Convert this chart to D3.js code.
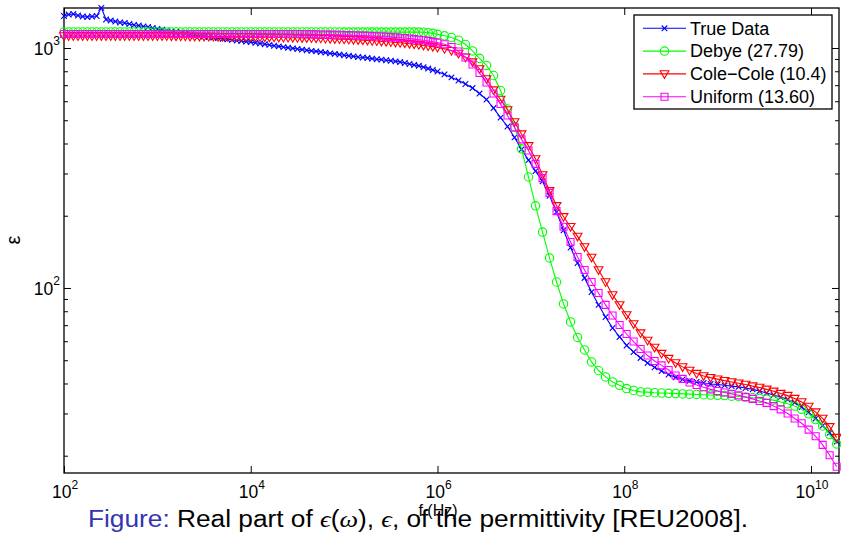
<!DOCTYPE html>
<html>
<head>
<meta charset="utf-8">
<script src="https://cdn.jsdelivr.net/npm/d3@7"></script>
<style>
  body { margin: 0; background: #fff; }
  svg text { font-family: "Liberation Sans", Arial, Helvetica, sans-serif; }
</style>
</head>
<body>
<svg id="chart" width="841" height="534"></svg>
<script>
// Frequency points, as log10(f / Hz)
const logFreq = [
  2,2.05,2.1,2.15,2.2,2.25,2.3,2.35,2.4,2.45,
  2.5,2.55,2.6,2.65,2.7,2.75,2.8,2.85,2.9,2.95,
  3,3.05,3.1,3.15,3.2,3.25,3.3,3.35,3.4,3.45,
  3.5,3.55,3.6,3.65,3.7,3.75,3.8,3.85,3.9,3.95,
  4,4.05,4.1,4.15,4.2,4.25,4.3,4.35,4.4,4.45,
  4.5,4.55,4.6,4.65,4.7,4.75,4.8,4.85,4.9,4.95,
  5,5.05,5.1,5.15,5.2,5.25,5.3,5.35,5.4,5.45,
  5.5,5.55,5.6,5.65,5.7,5.75,5.8,5.85,5.9,5.95,
  6,
  6.075,6.15,6.225,6.3,6.375,6.45,6.525,6.6,6.675,6.75,
  6.825,6.9,6.975,7.05,7.125,7.2,7.275,7.35,7.425,7.5,
  7.575,7.65,7.725,7.8,7.875,7.95,8.025,8.1,8.175,8.25,
  8.325,8.4,8.475,8.55,8.625,8.7,8.775,8.85,8.925,9,
  9.075,9.15,9.225,9.3,9.375,9.45,9.525,9.6,9.675,9.75,
  9.825,9.9,9.975,10.05,10.125,10.2,10.275
];

// Real permittivity: measured
const trueData = [
  1359,1379,1386,1366,1353,1346,1353,1359,1470,1315,
  1302,1290,1277,1271,1259,1247,1241,1229,1223,1212,
  1200,1192,1183,1175,1166,1157,1148,1139,1130,1123,
  1117,1111,1105,1099,1092,1087,1081,1075,1070,1063,
  1058,1051,1044,1037,1030,1022,1016,1009,1003,997,
  990,985,979,973,968,962,957,950,945,939,
  933,928,923,917,913,908,903,898,894,889,
  885,880,874,866,858,850,843,832,821,810,
  798,
  776,754,732,708,681,646,610,562,513,471,
  424,378,341,307,278,242,207,174,147.5,127.1,
  110.1,96.2,85.0,75.7,68.1,62.5,57.6,54.1,51.1,48.7,
  46.7,45.1,43.6,42.4,41.6,41.0,40.6,40.2,39.8,39.6,
  39.3,39.0,38.7,38.3,37.8,37.2,36.5,35.8,35.1,34.3,
  33.3,31.9,30.3,28.6,26.7,24.9,22.9
];

// Debye model fit
const debye = [
  1166,1166,1166,1166,1166,1166,1166,1166,1166,1166,
  1166,1166,1166,1166,1166,1166,1166,1166,1166,1166,
  1166,1166,1166,1166,1166,1166,1166,1166,1166,1166,
  1166,1166,1166,1166,1166,1166,1166,1166,1166,1166,
  1166,1166,1166,1166,1166,1166,1166,1166,1166,1166,
  1166,1166,1166,1166,1166,1166,1166,1166,1166,1166,
  1165,1165,1165,1165,1165,1165,1165,1165,1165,1165,
  1165,1165,1165,1165,1165,1165,1165,1163,1158,1151,
  1140,
  1124,1106,1078,1034,972,906,846,768,665,557,
  471,380,290,220,171,133.4,105.9,85.8,72.2,62.2,
  55.2,49.2,45.3,42.6,40.6,39.3,38.1,37.4,36.9,36.8,
  36.6,36.5,36.4,36.3,36.2,36.1,36.0,35.9,35.8,35.7,
  35.6,35.4,35.3,35.1,34.9,34.7,34.4,34.1,33.5,32.9,
  32.2,31.2,29.9,28.3,26.6,24.5,22.4
];

// Cole-Cole model fit
const coleCole = [
  1122,1122,1122,1122,1122,1122,1122,1122,1122,1122,
  1122,1122,1122,1122,1122,1122,1122,1122,1122,1122,
  1122,1121,1121,1120,1120,1119,1119,1118,1118,1117,
  1117,1116,1116,1115,1115,1115,1114,1114,1114,1114,
  1113,1112,1111,1110,1109,1108,1107,1106,1105,1104,
  1103,1102,1101,1100,1099,1097,1095,1094,1091,1089,
  1087,1085,1083,1081,1078,1075,1072,1069,1065,1062,
  1059,1055,1051,1047,1042,1037,1031,1025,1019,1013,
  1005,
  992,975,949,915,874,818,743,668,610,552,
  492,438,391,345,296,254,220,198,180,164,
  148.2,134.0,118.9,105.9,93.5,85.0,77.2,70.8,64.9,60.4,
  56.5,53.3,50.8,48.7,46.9,45.3,44.0,43.0,42.3,41.7,
  41.1,40.6,40.1,39.6,39.0,38.5,37.8,37.1,36.3,35.6,
  34.6,33.5,32.1,30.4,28.6,26.4,23.8
];

// Uniform-distribution model fit
const uniform = [
  1144,1144,1144,1144,1144,1144,1144,1144,1144,1144,
  1144,1144,1144,1144,1144,1144,1144,1144,1144,1144,
  1144,1144,1144,1144,1144,1144,1144,1144,1144,1144,
  1144,1144,1144,1144,1144,1144,1144,1144,1144,1144,
  1144,1144,1144,1144,1144,1144,1144,1144,1144,1144,
  1144,1143,1142,1142,1140,1139,1138,1137,1136,1135,
  1133,1132,1130,1128,1126,1124,1121,1119,1117,1114,
  1110,1107,1104,1100,1095,1089,1083,1077,1070,1061,
  1053,
  1036,1010,967,913,854,787,718,646,584,523,
  466,416,374,329,287,249,209,180,155.5,134.7,
  118.9,105.9,95.3,85.0,76.8,70.1,64.3,59.8,55.7,52.3,
  49.6,47.6,45.5,43.2,41.8,40.4,39.4,38.6,37.8,37.2,
  36.7,36.2,35.7,35.1,34.5,33.8,33.2,32.2,31.2,30.0,
  28.6,27.3,25.7,24.1,22.2,20.1,18.0
];

const seriesNames  = ["True Data", "Debye (27.79)", "Cole\u2212Cole (10.4)", "Uniform (13.60)"];
const seriesColors = ["#0000ff", "#00ff00", "#ff0000", "#ff00ff"];
const seriesMarkers = ["times", "circle", "triangleDown", "square"];

const xTickExponents = [2, 4, 6, 8, 10];
const yTickExponents = [2, 3];
const yMinorTicks = [20, 30, 40, 50, 60, 70, 80, 90, 200, 300, 400, 500, 600, 700, 800, 900];

// ---- layout ----
const plot = { left: 64, top: 8, right: 839, bottom: 473 };
const svg = d3.select("#chart");

const x = d3.scaleLog().domain([1e2, Math.pow(10, 10.3)]).range([plot.left, plot.right]);
const y = d3.scaleLog().domain([Math.pow(10, 1.229), Math.pow(10, 3.1667)]).range([plot.bottom, plot.top]);

const series = [trueData, debye, coleCole, uniform].map((vals, i) => ({
  name: seriesNames[i],
  color: seriesColors[i],
  marker: seriesMarkers[i],
  points: vals.map((v, j) => ({ f: Math.pow(10, logFreq[j]), v }))
}));

// marker shapes
const markerPath = {
  times: `M-2.8,-2.8L2.8,2.8M-2.8,2.8L2.8,-2.8`,
  circle: `M4.2,0A4.2,4.2 0 1,1 -4.2,0A4.2,4.2 0 1,1 4.2,0Z`,
  triangleDown: `M-4.4,-3.2L4.4,-3.2L0,4.4Z`,
  square: `M-3.5,-3.5L3.5,-3.5L3.5,3.5L-3.5,3.5Z`
};

// ---- axes (ticks point inward on all four sides) ----
const majorX = xTickExponents.map(e => Math.pow(10, e));
const majorY = yTickExponents.map(e => Math.pow(10, e));

function styleAxis(g) {
  g.select(".domain").remove();
  g.selectAll(".tick line").attr("stroke", "#000").attr("stroke-width", 1);
  g.selectAll(".tick text").remove();
}

svg.append("g").attr("transform", `translate(0,${plot.bottom})`)
  .call(d3.axisBottom(x).tickValues(majorX).tickSizeInner(-7).tickSizeOuter(0).tickFormat(""))
  .call(styleAxis);
svg.append("g").attr("transform", `translate(0,${plot.top})`)
  .call(d3.axisTop(x).tickValues(majorX).tickSizeInner(-7).tickSizeOuter(0).tickFormat(""))
  .call(styleAxis);
svg.append("g").attr("transform", `translate(${plot.left},0)`)
  .call(d3.axisLeft(y).tickValues(majorY).tickSizeInner(-7).tickSizeOuter(0).tickFormat(""))
  .call(styleAxis);
svg.append("g").attr("transform", `translate(${plot.left},0)`)
  .call(d3.axisLeft(y).tickValues(yMinorTicks).tickSizeInner(-4).tickSizeOuter(0).tickFormat(""))
  .call(styleAxis);
svg.append("g").attr("transform", `translate(${plot.right},0)`)
  .call(d3.axisRight(y).tickValues(majorY).tickSizeInner(-7).tickSizeOuter(0).tickFormat(""))
  .call(styleAxis);
svg.append("g").attr("transform", `translate(${plot.right},0)`)
  .call(d3.axisRight(y).tickValues(yMinorTicks).tickSizeInner(-4).tickSizeOuter(0).tickFormat(""))
  .call(styleAxis);

// frame
svg.append("rect")
  .attr("x", plot.left).attr("y", plot.top)
  .attr("width", plot.right - plot.left).attr("height", plot.bottom - plot.top)
  .attr("fill", "none").attr("stroke", "#000").attr("stroke-width", 1.3);

// tick labels as 10 with superscript exponent
svg.append("g").selectAll("text").data(xTickExponents).join("text")
  .attr("x", e => x(Math.pow(10, e)) + 1)
  .attr("y", 498)
  .attr("text-anchor", "middle")
  .attr("font-size", 17.5)
  .attr("fill", "#000")
  .each(function (e) {
    const t = d3.select(this);
    t.append("tspan").text("10");
    t.append("tspan").attr("dy", -9).attr("font-size", 12).text(e);
  });

svg.append("g").selectAll("text").data(yTickExponents).join("text")
  .attr("x", 60)
  .attr("y", e => y(Math.pow(10, e)) + 7)
  .attr("text-anchor", "end")
  .attr("font-size", 17.5)
  .attr("fill", "#000")
  .each(function (e) {
    const t = d3.select(this);
    t.append("tspan").text("10");
    t.append("tspan").attr("dy", -10).attr("font-size", 12).text(e);
  });

// axis titles
svg.append("text")
  .attr("transform", "translate(20,240) rotate(-90)")
  .attr("text-anchor", "middle")
  .attr("font-size", 20)
  .attr("fill", "#000")
  .text("\u03b5");

svg.append("text")
  .attr("x", 438).attr("y", 516)
  .attr("text-anchor", "middle")
  .attr("font-size", 16)
  .attr("fill", "#000")
  .text("f (Hz)");

// ---- series ----
const line = d3.line().x(d => x(d.f)).y(d => y(d.v));

series.forEach(s => {
  const g = svg.append("g");
  g.append("path")
    .datum(s.points)
    .attr("d", line)
    .attr("fill", "none")
    .attr("stroke", s.color)
    .attr("stroke-width", 1.1);
  g.selectAll("path.mk").data(s.points).join("path")
    .attr("class", "mk")
    .attr("transform", d => `translate(${x(d.f)},${y(d.v)})`)
    .attr("d", markerPath[s.marker])
    .attr("fill", "none")
    .attr("stroke", s.color)
    .attr("stroke-width", 1.1);
});

// ---- legend ----
const legend = svg.append("g");
legend.append("rect")
  .attr("x", 634).attr("y", 15).attr("width", 198).attr("height", 94)
  .attr("fill", "#fff").attr("stroke", "#000").attr("stroke-width", 1.3);

series.forEach((s, i) => {
  const cy = 28.3 + i * 22.8;
  legend.append("line")
    .attr("x1", 643).attr("x2", 686).attr("y1", cy).attr("y2", cy)
    .attr("stroke", s.color).attr("stroke-width", 1.1);
  legend.append("path")
    .attr("transform", `translate(664.5,${cy})`)
    .attr("d", markerPath[s.marker])
    .attr("fill", "none").attr("stroke", s.color).attr("stroke-width", 1.1);
  legend.append("text")
    .attr("x", 690).attr("y", cy + 6.3)
    .attr("font-size", 18)
    .attr("fill", "#000")
    .text(s.name);
});

// ---- caption ----
const caption = svg.append("text")
  .attr("x", 88).attr("y", 527)
  .attr("font-size", 23)
  .attr("fill", "#000")
  .attr("textLength", 660)
  .attr("lengthAdjust", "spacingAndGlyphs");
caption.append("tspan").attr("fill", "#3434b3").text("Figure:");
caption.append("tspan").text(" Real part of ");
caption.append("tspan").attr("font-family", "'Liberation Serif', serif").attr("font-style", "italic").text("\u03f5");
caption.append("tspan").text("(");
caption.append("tspan").attr("font-family", "'Liberation Serif', serif").attr("font-style", "italic").text("\u03c9");
caption.append("tspan").text("), ");
caption.append("tspan").attr("font-family", "'Liberation Serif', serif").attr("font-style", "italic").text("\u03f5");
caption.append("tspan").text(", of the permittivity [REU2008].");
</script>
</body>
</html>
